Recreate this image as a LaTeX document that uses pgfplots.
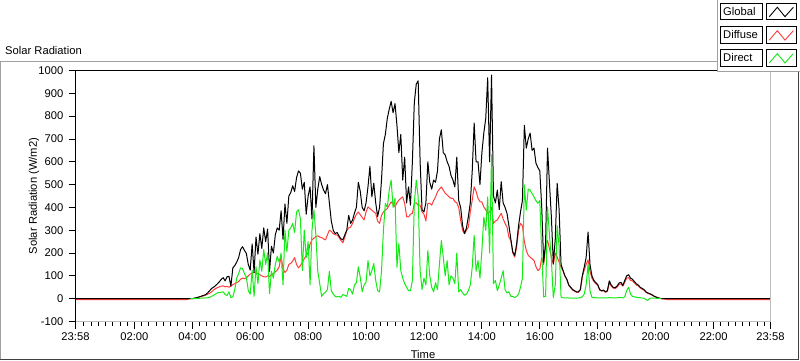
\documentclass[border=0pt]{standalone}
\usepackage{fontspec}
\setmainfont{Liberation Sans}
\usepackage{pgfplots}
\pgfplotsset{compat=1.18}
\usepackage{pgfplotstable}
\definecolor{dcol}{RGB}{255,60,60}
\definecolor{bcol}{RGB}{20,235,20}
\definecolor{frgray}{RGB}{160,160,160}

\pgfplotstableread{
m G D B
-2 0 -4 nan
228 0 -4 nan
236 0 0 0
240 0 0 0
244 2 2 0
248 4 4 1
252 6 6 1
256 9 8 2
260 12 10 2
264 15 13 3
268 18 16 3
272 26 20 4
276 35 24 6
280 45 30 10
284 50 38 15
288 57 44 20
292 65 48 25
296 74 52 28
300 85 55 28
304 92 56 30
308 78 52 18
312 96 54 14
316 98 50 30
320 55 55 5
324 135 62 8
328 145 66 40
332 160 70 90
336 180 75 110
340 215 85 135
344 228 90 132
348 212 88 110
352 198 92 94
356 150 100 35
360 125 108 20
364 240 112 125
368 115 115 10
372 270 113 140
376 195 110 66
380 285 105 170
384 220 100 120
388 310 96 215
392 250 95 150
396 305 100 200
400 120 98 22
404 230 104 120
408 200 110 90
412 280 118 150
416 310 125 185
420 300 140 160
424 385 185 200
428 260 130 60
432 415 115 300
436 330 125 205
440 450 150 300
444 465 155 310
448 495 165 330
452 470 180 290
456 530 150 380
460 560 135 390
464 550 145 350
468 480 160 123
472 510 175 300
476 370 190 180
480 450 200 250
484 490 240 60
488 350 258 300
492 670 265 390
496 400 272 280
500 480 276 120
504 535 270 66
508 500 268 10
512 476 262 22
516 460 258 28
520 500 280 40
524 420 300 120
528 340 295 35
532 300 285 20
536 285 280 10
540 290 280 8
544 275 268 10
548 262 255 6
552 258 245 18
556 280 270 15
560 300 298 10
564 365 310 45
568 330 314 40
572 345 330 20
576 375 352 60
580 400 370 70
584 510 380 140
588 470 368 94
592 400 356 30
596 385 345 60
600 420 380 72
604 490 402 167
608 580 395 100
612 446 388 123
616 506 380 154
620 420 374 80
624 360 340 35
628 400 330 30
632 520 365 120
636 680 380 300
640 720 388 418
644 790 395 400
648 830 410 476
652 865 424 520
656 815 415 400
660 855 402 440
664 760 420 138
668 640 432 242
672 720 440 123
676 520 446 90
680 620 418 66
684 420 360 50
688 490 358 35
692 410 370 35
696 600 374 80
700 860 418 418
704 940 420 520
708 955 410 446
712 600 410 123
716 390 380 40
720 380 370 90
724 420 340 60
728 600 418 211
732 510 418 100
736 480 410 50
740 520 430 30
744 510 446 70
748 560 468 40
752 700 480 150
756 740 490 255
760 640 476 182
764 630 462 100
768 600 455 167
772 580 446 60
776 540 440 100
780 520 440 90
784 490 425 66
788 620 420 200
792 430 400 30
796 400 343 40
800 320 300 25
804 285 285 15
808 310 300 20
812 360 314 35
816 420 380 60
820 560 432 138
824 770 490 278
828 600 470 120
832 600 440 167
836 500 425 90
840 640 424 211
844 726 402 358
848 790 390 300
852 968 374 446
856 600 380 200
860 980 400 630
864 450 330 66
868 420 340 80
872 476 345 35
876 390 360 60
880 513 374 90
884 420 350 123
888 400 330 40
892 374 314 25
896 320 270 30
900 260 255 10
904 205 200 10
908 190 182 5
912 240 226 10
916 320 300 20
920 380 330 50
924 430 320 90
928 760 250 498
932 660 211 388
936 700 190 480
940 726 182 476
944 650 175 460
948 660 167 446
952 594 140 430
956 575 123 418
960 560 130 430
964 400 180 200
968 160 150 8
972 245 230 10
976 660 255 402
980 506 220 280
984 358 182 170
988 154 150 5
992 260 200 60
996 506 182 320
1000 390 160 230
1004 150 138 8
1008 125 123 4
1012 100 100 3
1016 85 85 3
1020 60 58 3
1024 50 48 2
1028 40 38 2
1032 35 33 2
1036 30 28 2
1040 30 28 3
1044 40 38 5
1048 100 95 8
1052 138 125 20
1056 180 150 60
1060 292 170 150
1064 150 120 35
1068 100 90 6
1072 80 75 5
1076 70 66 4
1080 62 58 3
1084 40 38 3
1088 35 33 3
1092 38 35 3
1096 30 28 3
1100 35 32 3
1104 78 70 5
1108 60 55 4
1112 50 46 3
1116 48 45 3
1120 55 50 4
1124 68 62 5
1128 72 65 6
1132 58 55 3
1136 80 72 8
1140 100 90 35
1144 105 92 50
1148 90 80 20
1152 85 78 10
1156 75 70 8
1160 65 60 6
1164 60 56 5
1168 50 47 4
1172 45 42 3
1176 40 37 2
1180 30 28 -5
1184 25 23 -7
1188 22 20 2
1192 18 16 3
1196 12 11 2
1200 8 7 2
1204 5 4 1
1208 2 2 1
1212 0 0 0
1216 0 -1 nan
1226 0 -4 nan
1438 0 -4 nan
}\solardata

\begin{document}
\begin{tikzpicture}[font=\fontsize{11.2pt}{13pt}\selectfont]
\path[use as bounding box, fill=white] (0pt,0pt) rectangle (800pt,361pt);
% outer frame
\draw[frgray, line width=1pt] (0.5pt,1.5pt) -- (0.5pt,299.5pt) -- (717pt,299.5pt);
\draw[black!75, line width=1pt] (0pt,1.5pt) -- (798.5pt,1.5pt) -- (798.5pt,289pt);
% title
\node[anchor=base west, inner sep=0pt] at (5pt,306pt) {Solar Radiation};
\begin{axis}[
  at={(75.5pt,39.5pt)}, anchor=south west,
  width=695pt, height=251pt, scale only axis,
  xmin=-2, xmax=1438, ymin=-100, ymax=1000,
  axis line style={draw=none},
  xtick={-2,120,240,360,480,600,720,840,960,1080,1200,1320,1438},
  xticklabels={23:58,02:00,04:00,06:00,08:00,10:00,12:00,14:00,16:00,18:00,20:00,22:00,23:58},
  minor xtick={15,30,...,1425},
  ytick={-100,0,100,...,1000},
  xtick pos=bottom, ytick pos=left,
  tick align=outside,
  major tick length=7pt, minor tick length=4pt,
  tick style={black, line width=0.8pt},
  /pgf/number format/assume math mode=true,
  /pgf/number format/set thousands separator={},
  yticklabel style={anchor=east, inner sep=0pt, xshift=-5pt},
  xticklabel style={anchor=north, inner sep=0pt, yshift=-4pt},
  xlabel={Time}, ylabel={Solar Radiation (W/m2)},
  xlabel style={at={(axis description cs:0.5,0)}, anchor=center, yshift=-32.5pt, inner sep=0pt},
  ylabel style={at={([xshift=-41.5pt]axis description cs:0,0.5)}, anchor=center, inner sep=0pt},
  unbounded coords=jump,
  after end axis/.code={
    \draw[black, line width=1pt] (rel axis cs:0,0) -- (rel axis cs:0,1) -- (rel axis cs:1,1);
    \draw[frgray!70, line width=1pt] (rel axis cs:1,1) -- (rel axis cs:1,0) -- (rel axis cs:0,0);
  },
]
\addplot[dcol, line width=1pt, line join=round] table[x=m, y=D] {\solardata};
\addplot[black, line width=1pt, line join=round] table[x=m, y=G] {\solardata};
\addplot[bcol, line width=1pt, line join=round] table[x=m, y=B] {\solardata};
\end{axis}
% legend panel
\fill[white] (717pt,289pt) rectangle (800pt,361pt);
\draw[frgray, line width=1pt] (717pt,361pt) -- (717pt,289pt) -- (800pt,289pt);
% row 1
\draw[black, line width=0.9pt] (720.7pt,357.7pt) rectangle (762.7pt,341.7pt);
\draw[black, line width=0.9pt] (766.7pt,357.7pt) rectangle (796.7pt,341.7pt);
\node[anchor=west, inner sep=0pt] at (723pt,349.7pt) {Global};
\draw[black, line width=0.9pt] (769.3pt,344.3pt) -- (777.3pt,353.7pt) -- (785pt,344.3pt) -- (793.3pt,353.7pt);
% row 2
\draw[black, line width=0.9pt] (720.7pt,334.3pt) rectangle (762.7pt,317.7pt);
\draw[black, line width=0.9pt] (766.7pt,334.3pt) rectangle (796.7pt,317.7pt);
\node[anchor=west, inner sep=0pt] at (723pt,326pt) {Diffuse};
\draw[dcol, line width=0.9pt] (769.3pt,320.9pt) -- (777.3pt,330.3pt) -- (785pt,320.9pt) -- (793.3pt,330.3pt);
% row 3
\draw[black, line width=0.9pt] (720.7pt,311.7pt) rectangle (762.7pt,295pt);
\draw[black, line width=0.9pt] (766.7pt,311.7pt) rectangle (796.7pt,295pt);
\node[anchor=west, inner sep=0pt] at (723pt,303.3pt) {Direct};
\draw[bcol, line width=0.9pt] (769.3pt,298pt) -- (777.3pt,307.4pt) -- (785pt,298pt) -- (793.3pt,307.4pt);
\end{tikzpicture}
\end{document}
